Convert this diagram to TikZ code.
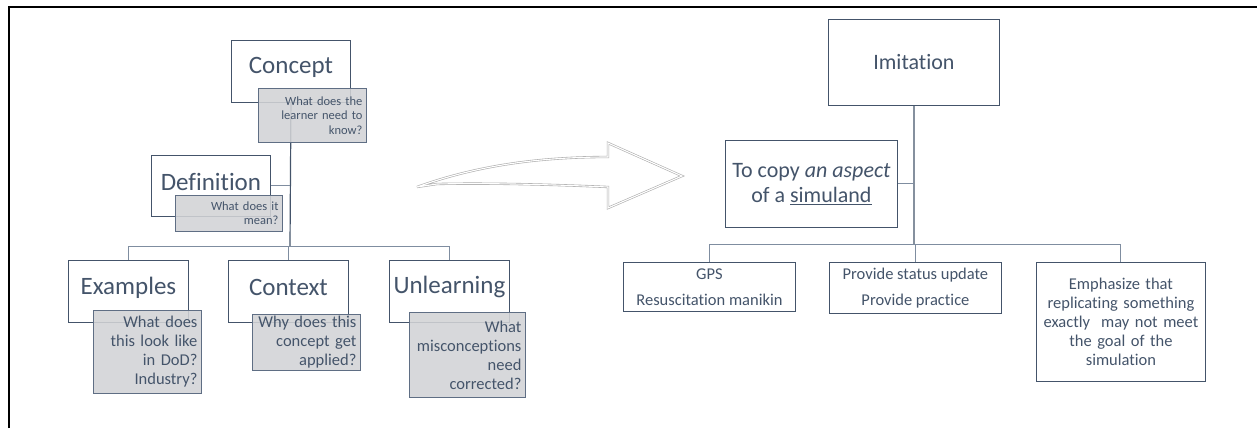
\documentclass[tikz,border=0pt]{standalone}
\usepackage{fontspec}
\setmainfont{Carlito}[Ligatures=CommonOff]
\usetikzlibrary{backgrounds,calc}
\definecolor{txt}{HTML}{44546A}
\definecolor{edgec}{HTML}{44546A}
\definecolor{busc}{HTML}{7F8DA0}
\definecolor{greyfill}{HTML}{D2D3D6}
\definecolor{greyedge}{HTML}{5F6E84}
\definecolor{arrowc}{HTML}{ACACAC}
\begin{document}
\begin{tikzpicture}[x=1pt,y=-1pt,
  mainbox/.style={draw=edgec, line width=0.9pt, fill=white, anchor=north west, inner sep=0pt},
  mainlab/.style={text=txt, font=\fontsize{25}{30}\selectfont, inner sep=0pt},
  notebox/.style={draw=greyedge, line width=0.9pt, fill=greyfill, fill opacity=0.88, text opacity=1,
     anchor=north west, text=txt, align=right, inner xsep=4pt, inner ysep=0pt},
  smallnote/.style={notebox, font=\fontsize{12.5}{14.5}\selectfont},
  bignote/.style={notebox, font=\fontsize{16.5}{19}\selectfont},
  rbox/.style={draw=edgec, line width=0.9pt, fill=white, anchor=north west, text=txt, align=center, inner sep=0pt},
  rtext/.style={rbox, font=\fontsize{16.5}{19}\selectfont},
  htext/.style={rbox, font=\fontsize{22}{25}\selectfont},
  trunk/.style={draw=edgec, line width=1.2pt},
  branch/.style={draw=busc, line width=1pt},
  bigarrow/.style={draw=arrowc, double=white, double distance=1.1pt, line width=0.6pt, line join=miter}
]
\useasboundingbox (0,0) rectangle (1257,428);
% frame
\draw[line width=2.5pt] (9,428) -- (9,7) -- (1257,7);

% ---------- left hierarchy ----------
\node[mainbox, minimum width=119pt, minimum height=62pt] (concept) at (231,40) {};
\node[mainlab] (conceptL) at ([yshift=4pt]concept.center) {Concept};
\node[smallnote, text width=100pt, minimum height=54pt] (conceptN) at (258,88)
  {What does the\\learner need to\\know?};

\node[mainbox, minimum width=119pt, minimum height=61pt] (definition) at (151,155) {};
\node[mainlab] (definitionL) at ([yshift=4pt]definition.center) {Definition};
\node[smallnote, text width=99pt, minimum height=36pt] (definitionN) at (175,195)
  {What does it\\mean?};

\node[mainbox, minimum width=120pt, minimum height=62pt] (examples) at (68,260) {};
\node[mainlab] (examplesL) at ([yshift=4pt]examples.center) {Examples};
\node[bignote, text width=100pt, minimum height=83pt] (examplesN) at (93,310)
  {What does\\this look like\\in DoD?\\Industry?};

\node[mainbox, minimum width=120pt, minimum height=62pt] (context) at (228,260) {};
\node[mainlab] (contextL) at ([yshift=4pt]context.center) {Context};
\node[bignote, text width=100pt, minimum height=56pt] (contextN) at (252,314)
  {Why does this\\concept get\\applied?};

\node[mainbox, minimum width=120pt, minimum height=62pt] (unlearning) at (389,260) {};
\node[mainlab] (unlearningL) at ([yshift=4pt]unlearning.center) {Unlearning};
\node[bignote, text width=108pt, minimum height=85pt] (unlearningN) at (409,312)
  {What\\misconceptions\\need\\corrected?};

\coordinate (lbus) at (290,246);

% ---------- big arrow ----------
\draw[bigarrow] (417,187) .. controls (470,168) and (530,157) .. (608,157)
  -- (608,143) -- (682,176) -- (608,208) -- (608,187)
  .. controls (540,184) and (480,183) .. (437,184) -- cycle;

% ---------- right hierarchy ----------
\node[htext, minimum width=171pt, minimum height=86pt] (imitation) at (828,19) {Imitation};
\node[htext, minimum width=172pt, minimum height=87pt] (copy) at (725,140)
  {To copy \textit{an aspect}\\of a \underline{simuland}};
\node[rtext, minimum width=172pt, minimum height=49pt] (gps) at (623,262)
  {GPS\\[7pt]Resuscitation manikin};
\node[rtext, minimum width=172pt, minimum height=51pt] (provide) at (829,262)
  {Provide status update\\[7pt]Provide practice};
\node[rtext, text width=160pt, minimum width=169pt, minimum height=119pt] (emph) at (1036,262)
  {Emphasize that\\replicating something\\exactly\ \ may not meet\\the goal of the\\simulation};

\coordinate (rbus) at (914,244);

% ---------- connectors ----------
\begin{scope}[on background layer]
  \draw[trunk] (concept.south) -- (lbus);
  \draw[branch] (definition.east) -- (definition.east -| lbus);
  \draw[branch] (lbus) -| (examples.north);
  \draw[branch] (lbus) -| (context.north);
  \draw[branch] (lbus) -| (unlearning.north);
  \draw[trunk] (imitation.south) -- (rbus);
  \draw[branch] (copy.east) -- (copy.east -| rbus);
  \draw[branch] (rbus) -| (gps.north);
  \draw[branch] (rbus) -| (provide.north);
  \draw[branch] (rbus) -| (emph.north);
\end{scope}
\end{tikzpicture}
\end{document}
